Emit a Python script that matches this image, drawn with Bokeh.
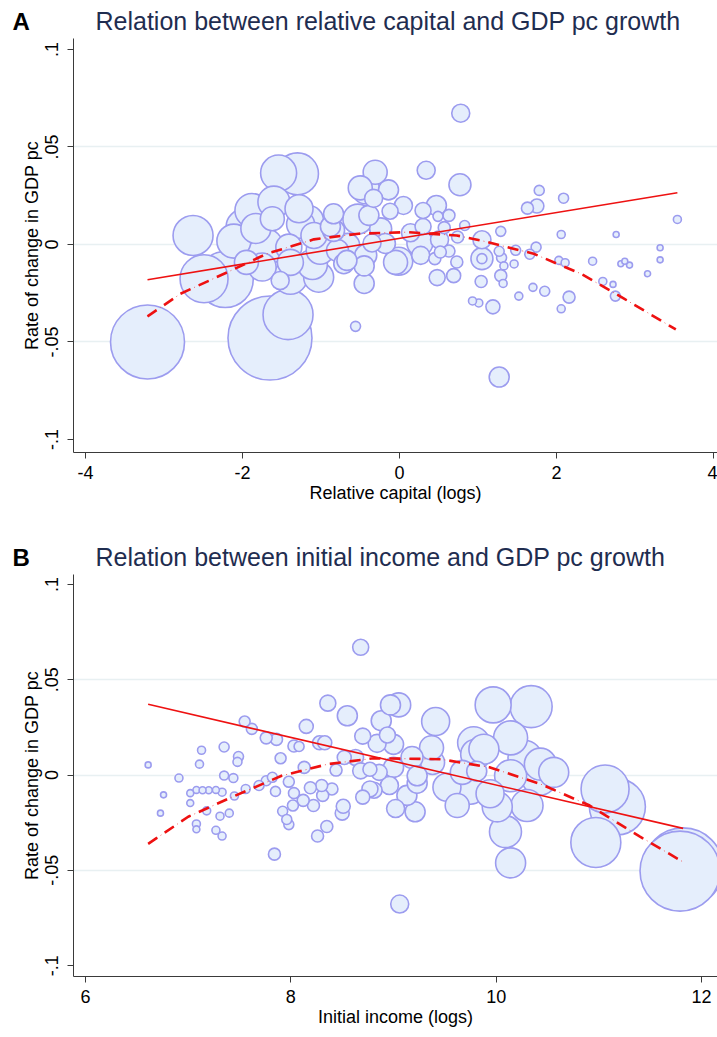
import numpy as np
from bokeh.plotting import figure
from bokeh.models import FixedTicker, Label, ColumnDataSource
from bokeh.layouts import column
from bokeh.embed import file_html
from bokeh.resources import INLINE

# ---------------- Panel A: relative capital (logs) vs growth ----------------
a_x = [-3.21, -1.65, -1.42, -2.22, -2.49, -2.63, -2.11, -1.72, -1.54, -1.30,
       -1.88, -1.98, -1.60, -1.62, -1.28, -1.16, -1.09, -1.41, -1.11, -1.03,
       -1.52, -1.39, -1.75, -0.84, -0.84, -0.79, -0.71, -0.56, -0.53, -0.50,
       0.78, 0.34, 0.77, -0.31, -0.43, -0.14, 0.05, -0.12, -0.24, -0.35,
       0.26, -0.01, -0.45, -0.45, -0.67, 0.47, 0.30, 0.49, 0.63, 0.30,
       0.57, 0.83, 0.74, 0.51, 0.52, 0.63, 0.45, 0.73, 0.48, 0.69,
       1.05, 1.05, 1.05, 1.29, 1.27, 1.30, 1.33, 1.04, 1.29, 1.32,
       1.46, 1.48, 0.93, 1.01, 1.19, 1.27, 1.52, 1.63, 1.75, 1.78,
       1.74, 1.66, 1.70, 1.85, 2.06, 2.09, 2.03, 2.11, 2.16, 2.06,
       2.46, 2.59, 2.72, 2.75, 2.76, 2.82, 2.87, 2.93, 3.16, 3.32,
       3.32, 3.54, -1.01, -0.66, -0.43, -0.18, -0.05, 0.14, 0.27, -0.33,
       -0.39, -0.88, -1.26, -1.83, -1.95, -1.39]
a_y = [-0.0500, -0.0480, -0.0360, -0.0180, -0.0176, 0.0046, 0.0017, -0.0014, 0.0366, 0.0362,
       0.0174, 0.0089, 0.0217, 0.0132, 0.0183, 0.0123, 0.0046, -0.0014, -0.0103, -0.0168,
       -0.0185, -0.0168, -0.0116, 0.0157, 0.0072, -0.0031, -0.0099, -0.0420, 0.0130, 0.0290,
       0.0673, 0.0380, 0.0306, 0.0370, 0.0280, 0.0280, 0.0200, 0.0170, 0.0080, 0.0007,
       0.0007, -0.0086, -0.0110, -0.0200, -0.0082, 0.0200, 0.0174, 0.0144, 0.0149, 0.0092,
       0.0086, 0.0097, 0.0038, 0.0024, -0.0039, -0.0034, -0.0073, -0.0090, -0.0170, -0.0160,
       0.0024, -0.0073, -0.0073, 0.0067, -0.0035, -0.0068, -0.0110, -0.0190, -0.0160, -0.0200,
       -0.0100, -0.0030, -0.0290, -0.0300, -0.0320, -0.0680, -0.0265, 0.0186, 0.0197, 0.0277,
       -0.0014, -0.0050, -0.0220, -0.0240, 0.0051, 0.0237, -0.0082, -0.0094, -0.0270, -0.0330,
       -0.0086, -0.0190, -0.0205, -0.0265, 0.0051, -0.0099, -0.0086, -0.0106, -0.0150, -0.0017,
       -0.0079, 0.0128, -0.0030, -0.0005, -0.0056, 0.0005, -0.0092, 0.0060, -0.0056, 0.0236,
       0.0149, 0.0092, 0.0103, 0.0082, -0.0092, -0.0092]
a_weight = [1369, 1764, 625, 784, 576, 400, 289, 361, 324, 441,
            289, 324, 256, 144, 196, 225, 169, 169, 225, 225,
            81, 289, 196, 100, 121, 121, 100, 25, 225, 144,
            81, 81, 121, 144, 196, 100, 81, 64, 121, 81,
            169, 196, 100, 100, 100, 100, 64, 25, 36, 64,
            36, 25, 36, 81, 36, 36, 36, 36, 64, 49,
            81, 121, 25, 25, 25, 25, 16, 36, 36, 16,
            16, 25, 16, 16, 49, 100, 16, 36, 49, 25,
            25, 25, 16, 25, 16, 25, 16, 16, 36, 16,
            16, 16, 9, 25, 9, 9, 9, 9, 9, 9,
            9, 16, 196, 144, 121, 100, 144, 81, 81, 81,
            100, 100, 196, 225, 144, 169]

a_lin_x = [-3.21, 3.54]
a_lin_y = [-0.0181, 0.0265]
a_quad_x = [-3.21, -2.79, -2.19, -1.69, -1.09, -0.52, 0.10, 0.73, 1.07, 1.71, 2.31, 2.86, 3.52]
a_quad_y = [-0.0369, -0.0253, -0.0142, -0.0048, 0.0026, 0.0055, 0.0063, 0.0046, 0.0017,
            -0.0048, -0.0150, -0.0278, -0.0436]

# ---------------- Panel B: initial income (logs) vs growth ----------------
b_x = [6.61, 6.76, 6.73, 6.91, 7.02, 7.08, 7.14, 7.20, 7.27, 7.33,
       7.02, 7.13, 7.11, 7.18, 7.08, 7.08, 7.35, 7.35, 7.44, 7.49,
       7.48, 7.45, 7.56, 7.55, 7.62, 7.31, 7.40, 7.27, 7.33, 7.69,
       7.76, 7.86, 7.90, 7.76, 7.82, 7.85, 7.98, 8.03, 8.02, 8.12,
       8.19, 8.22, 7.92, 7.96, 7.98, 8.03, 8.08, 8.13, 8.15, 8.28,
       8.33, 8.36, 8.55, 8.68, 8.30, 8.31, 8.40, 8.44, 8.52, 8.51,
       8.26, 8.35, 8.70, 8.68, 8.63, 8.70, 8.81, 9.06, 9.05, 8.97,
       8.88, 9.41, 9.97, 10.34, 8.84, 9.00, 8.94, 8.86, 8.77, 9.00,
       9.18, 9.37, 9.38, 9.23, 8.96, 8.77, 9.13, 9.23, 9.02, 9.21,
       9.52, 9.62, 9.67, 9.75, 9.78, 9.80, 9.88, 9.81, 9.94, 10.01,
       10.09, 10.14, 10.14, 10.14, 10.28, 10.30, 10.43, 10.56, 10.42, 11.06,
       11.18, 10.97, 11.82, 11.79, 7.84, 8.50]
b_y = [0.0053, -0.0104, -0.0200, -0.0016, -0.0095, -0.0078, -0.0080, -0.0080, -0.0078, -0.0090,
       -0.0147, 0.0130, 0.0057, -0.0188, -0.0257, -0.0285, 0.0147, -0.0003, -0.0016, 0.0097,
       0.0069, -0.0110, -0.0073, 0.0281, 0.0242, -0.0216, -0.0200, -0.0290, -0.0320, -0.0055,
       0.0195, 0.0187, 0.0088, -0.0030, -0.0012, -0.0086, -0.0035, -0.0095, -0.0160, -0.0133,
       -0.0067, -0.0160, -0.0190, -0.0233, -0.0260, 0.0152, 0.0150, 0.0040, 0.0255, 0.0169,
       0.0169, 0.0377, 0.0311, 0.0670, -0.0055, -0.0107, -0.0073, 0.0026, 0.0092, -0.0164,
       -0.0320, -0.0270, 0.0204, 0.0022, 0.0092, -0.0116, -0.0080, -0.0677, 0.0368, 0.0368,
       0.0285, 0.0281, 0.0368, 0.0359, 0.0166, 0.0161, 0.0210, 0.0014, 0.0030, 0.0040,
       0.0092, 0.0143, 0.0066, -0.0004, -0.0055, -0.0073, -0.0107, -0.0043, -0.0176, -0.0193,
       -0.0064, -0.0160, 0.0014, -0.0080, 0.0169, 0.0109, 0.0135, 0.0020, -0.0098, -0.0167,
       -0.0297, -0.0461, 0.0195, -0.0004, 0.0092, -0.0160, 0.0057, 0.0014, -0.0012, -0.0073,
       -0.0167, -0.0354, -0.0487, -0.0504, -0.0415, -0.0200]
b_weight = [9, 9, 9, 16, 12, 12, 12, 12, 12, 16,
            12, 16, 16, 16, 16, 12, 25, 20, 20, 25,
            20, 16, 20, 30, 30, 16, 16, 16, 16, 25,
            36, 36, 30, 25, 25, 25, 30, 30, 30, 36,
            36, 36, 25, 25, 25, 36, 25, 36, 49, 49,
            49, 64, 100, 64, 36, 36, 36, 36, 49, 49,
            36, 36, 64, 64, 64, 49, 64, 81, 144, 100,
            100, 196, 324, 441, 81, 100, 64, 64, 49, 100,
            121, 144, 144, 100, 81, 64, 100, 100, 81, 100,
            196, 144, 144, 196, 256, 225, 225, 100, 196, 225,
            256, 225, 289, 256, 289, 256, 256, 225, 324, 576,
            784, 625, 1600, 1600, 36, 49]

b_lin_x = [6.61, 11.82]
b_lin_y = [0.0371, -0.0280]
b_quad_x = [6.61, 7.00, 7.45, 7.91, 8.36, 8.81, 9.46, 9.94, 10.43, 10.91, 11.40, 11.82]
b_quad_y = [-0.0361, -0.0219, -0.0110, -0.0004, 0.0057, 0.0088, 0.0083, 0.0040, -0.0047,
            -0.0160, -0.0323, -0.0456]

y_ticks = [-0.1, -0.05, 0.0, 0.05, 0.1]
y_tick_labels = ["-.1", "-.05", "0", ".05", ".1"]
a_x_ticks = [-4, -2, 0, 2, 4]
a_x_tick_labels = ["-4", "-2", "0", "2", "4"]
b_x_ticks = [6, 8, 10, 12]
b_x_tick_labels = ["6", "8", "10", "12"]

FONT = "Liberation Sans"
FILL = "#e5eefc"
EDGE = "#9c9cef"
RED = "#ee1111"


def panel(xs, ys, ws, lx, ly, qx, qy, xr, yr, xticks, xtick_labels, title, letter,
          xlabel, height, top, bottom):
    p = figure(width=717, height=height, x_range=xr, y_range=yr,
               output_backend="svg", toolbar_location=None,
               min_border_left=73, min_border_right=0,
               min_border_top=top, min_border_bottom=bottom)
    p.outline_line_color = None
    p.background_fill_color = "white"
    p.border_fill_color = "white"

    p.title.text = title
    p.title.text_font = FONT
    p.title.text_font_size = "25px"
    p.title.text_font_style = "normal"
    p.title.text_color = "#1f2d50"
    p.title.align = "left"
    p.title.offset = 22
    p.title.standoff = -46

    p.xgrid.visible = False
    p.ygrid.ticker = FixedTicker(ticks=[-0.05, 0.0, 0.05])
    p.ygrid.grid_line_color = "#e8f0f2"
    p.ygrid.grid_line_width = 1.5

    for ax in (p.xaxis[0], p.yaxis[0]):
        ax.axis_line_color = "#3a3a3a"
        ax.major_tick_line_color = "#3a3a3a"
        ax.major_tick_out = 6
        ax.major_tick_in = 0
        ax.minor_tick_line_color = None
        ax.major_label_text_font = FONT
        ax.major_label_text_font_size = "18px"
        ax.major_label_text_color = "black"
        ax.axis_label_text_font = FONT
        ax.axis_label_text_font_size = "18px"
        ax.axis_label_text_font_style = "normal"
        ax.axis_label_text_color = "black"

    p.xaxis.ticker = FixedTicker(ticks=xticks)
    p.xaxis.major_label_overrides = {t: l for t, l in zip(xticks, xtick_labels)}
    p.xaxis.major_label_standoff = 7
    p.xaxis.axis_label = xlabel
    p.xaxis.axis_label_standoff = 1

    p.yaxis.ticker = FixedTicker(ticks=y_ticks)
    p.yaxis.major_label_overrides = {t: l for t, l in zip(y_ticks, y_tick_labels)}
    p.yaxis.major_label_orientation = "vertical"
    p.yaxis.major_label_standoff = 9
    p.yaxis.axis_label = "Rate of change in GDP pc"
    p.yaxis.axis_label_standoff = 1

    order = np.argsort(ws)[::-1]
    src = ColumnDataSource(dict(
        x=[xs[i] for i in order],
        y=[ys[i] for i in order],
        d=[2.0 * np.sqrt(ws[i]) for i in order],
    ))
    p.scatter("x", "y", size="d", source=src, marker="circle",
              fill_color=FILL, line_color=EDGE, line_width=1.6)

    p.line(lx, ly, line_color=RED, line_width=1.6)
    p.line(qx, qy, line_color="#f06060", line_width=1.0, line_dash="1 4")
    p.line(qx, qy, line_color=RED, line_width=2.6, line_dash="11 9")

    p.add_layout(Label(x=-61, y=4, x_units="screen", y_units="screen",
                       text=letter, text_font=FONT, text_font_size="24px",
                       text_font_style="bold", text_color="black",
                       text_baseline="bottom", text_align="left"), "above")
    return p


pa = panel(a_x, a_y, a_weight, a_lin_x, a_lin_y, a_quad_x, a_quad_y,
           (-4.153, 4.051), (-0.1067, 0.1056), a_x_ticks, a_x_tick_labels,
           "Relation between relative capital and GDP pc growth", "A",
           "Relative capital (logs)", 512, 38, 60)
pb = panel(b_x, b_y, b_weight, b_lin_x, b_lin_y, b_quad_x, b_quad_y,
           (5.883, 12.155), (-0.1057, 0.1052), b_x_ticks, b_x_tick_labels,
           "Relation between initial income and GDP pc growth", "B",
           "Initial income (logs)", 524, 62, 60)

layout = column(pa, pb, spacing=0)
open("out.html", "w").write(file_html(layout, INLINE))
